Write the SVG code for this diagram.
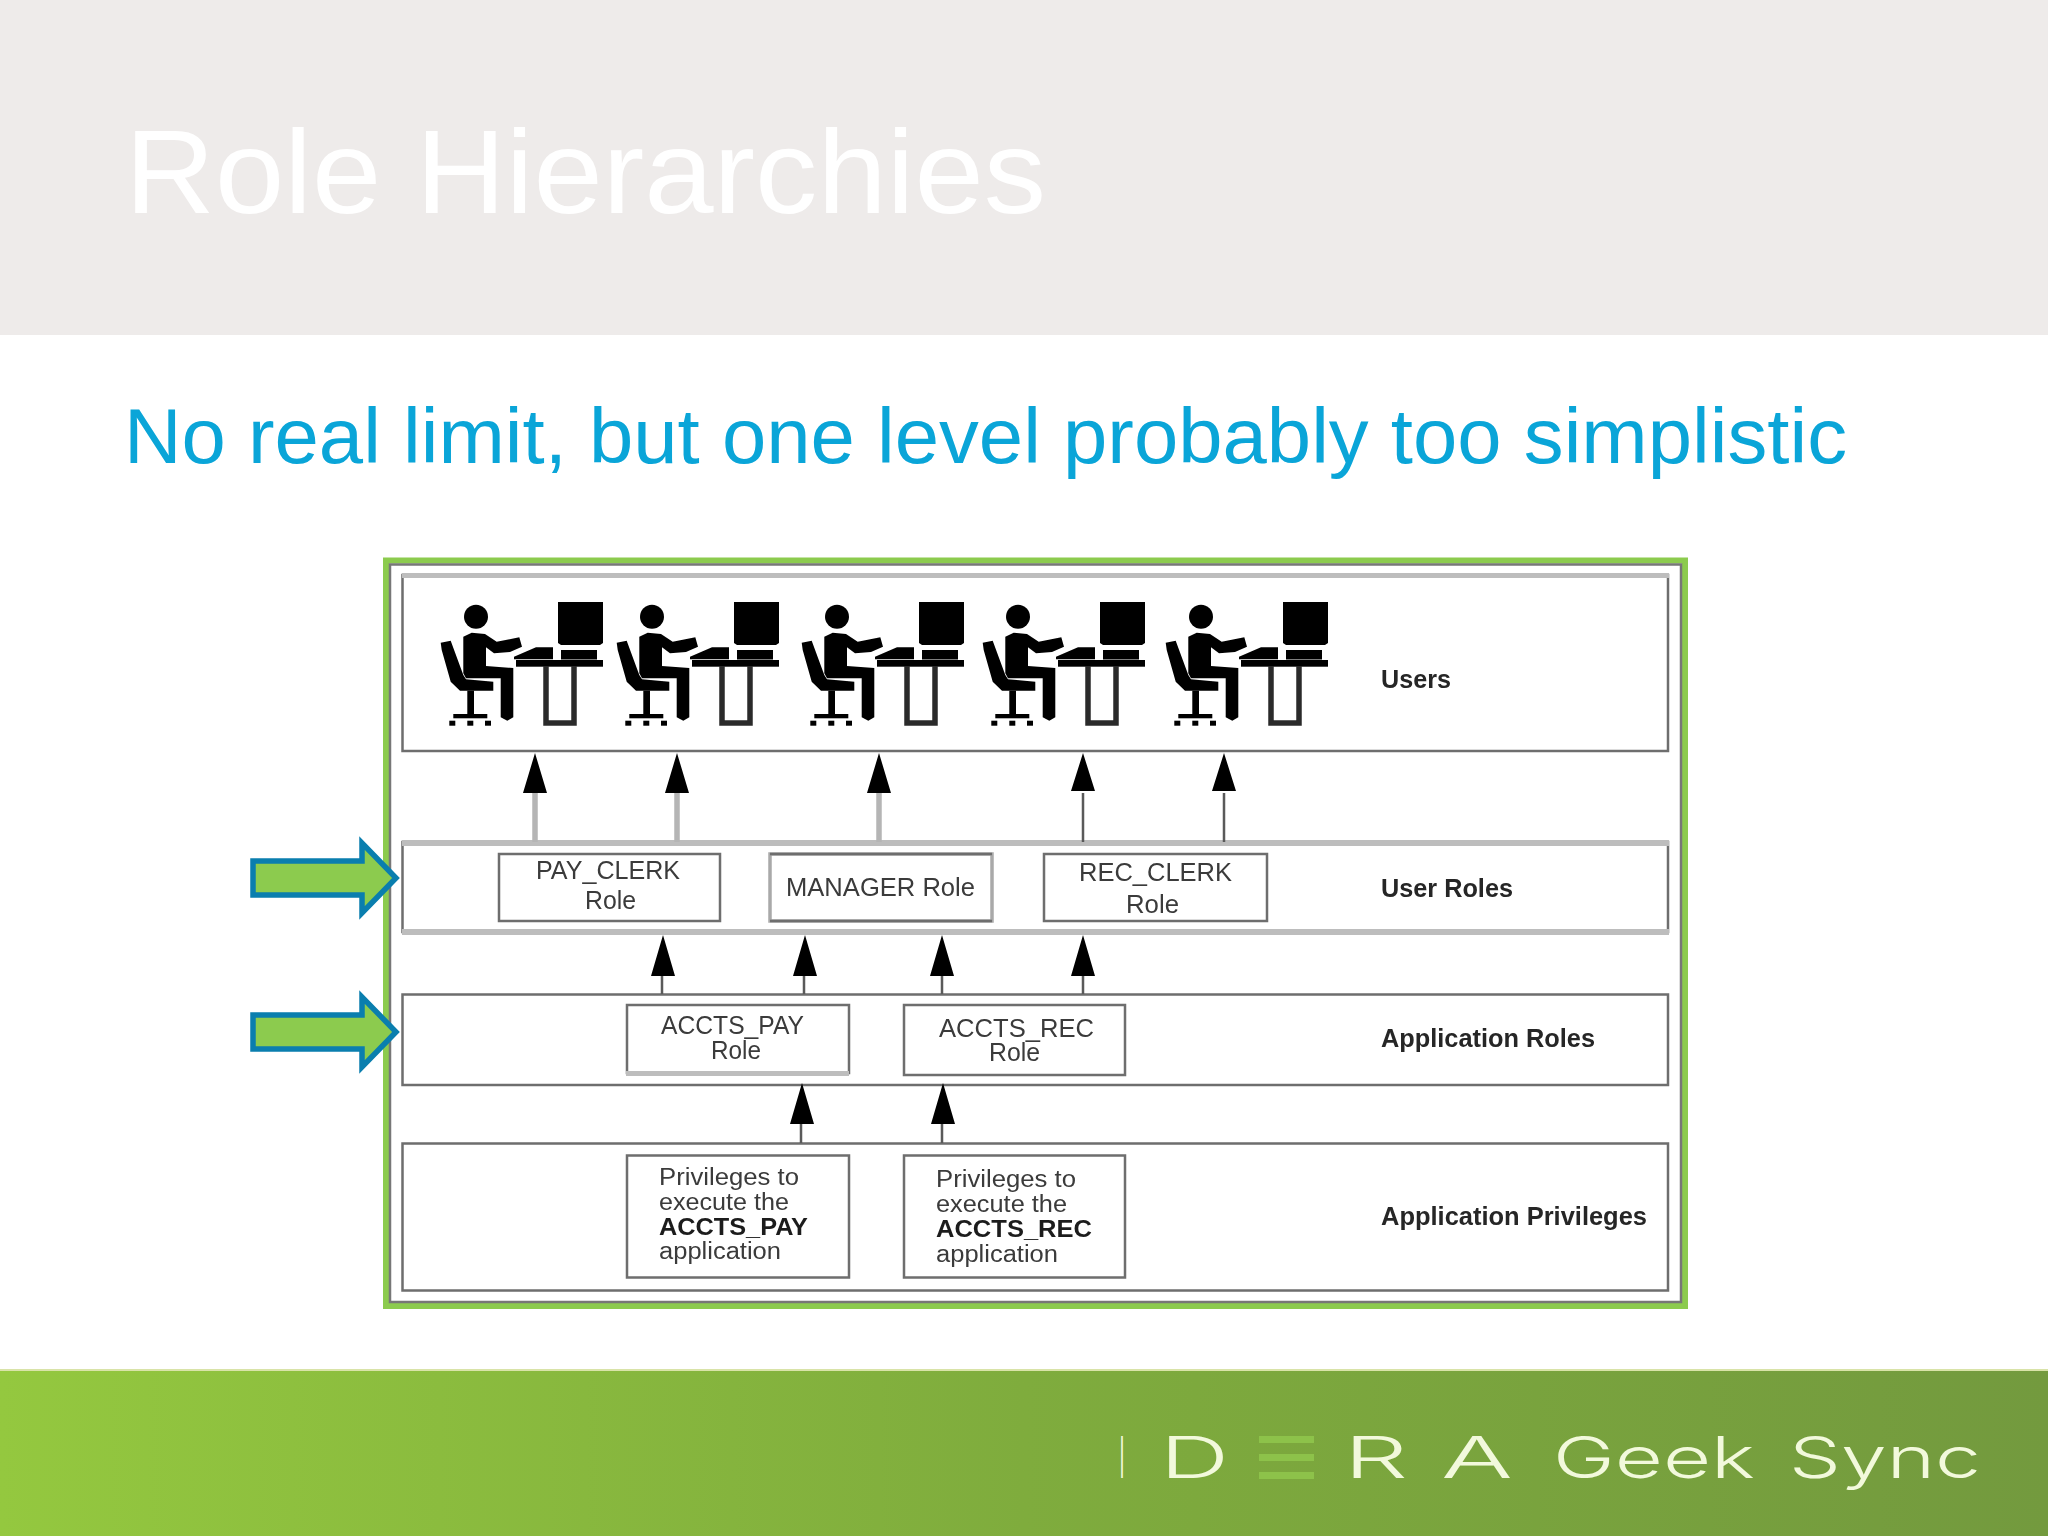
<svg xmlns="http://www.w3.org/2000/svg" width="2048" height="1536" viewBox="0 0 2048 1536">
<style>
text{font-family:"Liberation Sans",Arial,sans-serif}
.box{fill:#fff;stroke:#6e6e6e;stroke-width:2.5}
.band{fill:#bdbdbd}
.t{font-size:25px;fill:#3a3a3a}
.p{font-size:23.5px;fill:#3a3a3a}
.b{font-size:23.5px;fill:#1c1c1c;font-weight:700}
.lbl{font-size:25px;fill:#262626;font-weight:700}
.logo{font-family:Inter,"Liberation Sans",sans-serif;font-weight:300;font-size:57px;fill:#F2F9DC}
.head{fill:#000}
.lg{stroke:#b5b5b5;stroke-width:5.5;fill:none}
.ld{stroke:#5a5a5a;stroke-width:2.5;fill:none}
.ga{fill:#8CCB4E;stroke:#0A7EAE;stroke-width:5.5;stroke-linejoin:miter}
</style>
<defs>
<linearGradient id="foot" x1="0" x2="1" y1="0" y2="0"><stop offset="0" stop-color="#94C83F"/><stop offset="0.5" stop-color="#7FAC3D"/><stop offset="1" stop-color="#739A3E"/></linearGradient>
<filter id="soft" x="-2%" y="-2%" width="104%" height="104%"><feGaussianBlur stdDeviation="0.6"/></filter>
<g id="desk">
<ellipse cx="35" cy="14.700" rx="12" ry="12"/>
<path d="M117 0H162V41L159 43H120L117 41Z"/>
<rect x="120" y="48" width="36" height="9.500"/>
<path d="M73 54.700L95 45.300H112V57.300H73Z"/>
<rect x="75" y="58" width="87" height="6.700"/>
<path d="M105 64V121H133V64" fill="none" stroke="#2a2a2a" stroke-width="5.500"/>
<path d="M22.300 34.700L30.700 30.700L44 32L55.700 39.700L78.300 35.300L81 44.700L69 50L53 51.300L45 45.300V64L72.300 66V115.300L66.300 118.700L59.700 115.300V76.300H25L22.300 71.300Z"/>
<path d="M-.3 40.700L9.700 38.700L22.300 73L25 77.300L52.300 79.700V88.700H19L9.700 79.700L.7 48Z"/>
<rect x="26.300" y="88.700" width="6.700" height="23.300"/>
<rect x="12.300" y="112" width="34" height="4.300"/>
<rect x="8.300" y="118.700" width="6" height="5"/><rect x="26.300" y="118.700" width="6" height="5"/><rect x="44" y="118.700" width="6" height="5"/>
</g>
</defs>

<rect id="header" x="0" y="0" width="2048" height="335" fill="#EEEBEA"/>
<text id="title" x="125" y="213" font-size="118" fill="#fff" textLength="921" lengthAdjust="spacingAndGlyphs">Role Hierarchies</text>
<text id="subtitle" x="124" y="463" font-size="78" fill="#0AA5D8" textLength="1723" lengthAdjust="spacingAndGlyphs">No real limit, but one level probably too simplistic</text>

<g id="frame">
<rect x="386" y="560.500" width="1299" height="745.500" fill="#fff" stroke="#8CCB4E" stroke-width="6"/>
<rect x="390" y="564.500" width="1291" height="737.500" fill="none" stroke="#777" stroke-width="2.500"/>
</g>

<g filter="url(#soft)">
<g id="tier-users">
<rect class="box" x="402.500" y="575" width="1265.500" height="176"/>
<rect class="band" x="402" y="573" width="1267" height="5"/>
<use href="#desk" x="441" y="602"/><use href="#desk" x="617" y="602"/><use href="#desk" x="802" y="602"/><use href="#desk" x="983" y="602"/><use href="#desk" x="1166" y="602"/>
<text class="lbl" x="1381" y="688" textLength="70" lengthAdjust="spacingAndGlyphs">Users</text>
</g>
<g id="tier-user-roles">
<rect class="box" x="402.500" y="842" width="1265.500" height="90"/>
<rect class="band" x="402" y="840" width="1267" height="6"/>
<rect class="band" x="402" y="929" width="1267" height="6"/>
<text class="lbl" x="1381" y="897" textLength="132" lengthAdjust="spacingAndGlyphs">User Roles</text>
</g>
<g id="pay-clerk-role">
<rect class="box" x="499" y="854" width="221" height="67"/>
<text class="t" x="536" y="879" textLength="144" lengthAdjust="spacingAndGlyphs">PAY_CLERK</text>
<text class="t" x="585" y="909" textLength="51" lengthAdjust="spacingAndGlyphs">Role</text>
</g>
<g id="manager-role">
<rect x="770" y="854" width="222" height="67" fill="#fff" stroke="#a9a9a9" stroke-width="3.500"/>
<path d="M770 854H992M770 921H992" stroke="#6e6e6e" stroke-width="2.500" fill="none"/>
<text class="t" x="786" y="896" textLength="189" lengthAdjust="spacingAndGlyphs">MANAGER Role</text>
</g>
<g id="rec-clerk-role">
<rect class="box" x="1044" y="854" width="223" height="67"/>
<text class="t" x="1079" y="881" textLength="153" lengthAdjust="spacingAndGlyphs">REC_CLERK</text>
<text class="t" x="1126" y="913" textLength="53" lengthAdjust="spacingAndGlyphs">Role</text>
</g>
<g id="tier-application-roles">
<rect class="box" x="402.500" y="994.500" width="1265.500" height="90.500"/>
<text class="lbl" x="1381" y="1047" textLength="214" lengthAdjust="spacingAndGlyphs">Application Roles</text>
</g>
<g id="accts-pay-role">
<rect class="box" x="627" y="1005" width="222" height="68"/>
<rect class="band" x="626" y="1071" width="223" height="5"/>
<text class="t" x="661" y="1034" textLength="143" lengthAdjust="spacingAndGlyphs">ACCTS_PAY</text>
<text class="t" x="711" y="1059" textLength="50" lengthAdjust="spacingAndGlyphs">Role</text>
</g>
<g id="accts-rec-role">
<rect class="box" x="904" y="1005" width="221" height="70"/>
<text class="t" x="939" y="1037" textLength="155" lengthAdjust="spacingAndGlyphs">ACCTS_REC</text>
<text class="t" x="989" y="1061" textLength="51" lengthAdjust="spacingAndGlyphs">Role</text>
</g>
<g id="tier-application-privileges">
<rect class="box" x="402.500" y="1143.500" width="1265.500" height="147"/>
<text class="lbl" x="1381" y="1225" textLength="266" lengthAdjust="spacingAndGlyphs">Application Privileges</text>
</g>
<g id="accts-pay-privileges">
<rect class="box" x="627" y="1155.500" width="222" height="122"/>
<text class="p" x="659" y="1185" textLength="140" lengthAdjust="spacingAndGlyphs">Privileges to</text>
<text class="p" x="659" y="1210" textLength="130" lengthAdjust="spacingAndGlyphs">execute the</text>
<text class="b" x="659" y="1235" textLength="149" lengthAdjust="spacingAndGlyphs">ACCTS_PAY</text>
<text class="p" x="659" y="1259" textLength="122" lengthAdjust="spacingAndGlyphs">application</text>
</g>
<g id="accts-rec-privileges">
<rect class="box" x="904" y="1155.500" width="221" height="122"/>
<text class="p" x="936" y="1187" textLength="140" lengthAdjust="spacingAndGlyphs">Privileges to</text>
<text class="p" x="936" y="1212" textLength="131" lengthAdjust="spacingAndGlyphs">execute the</text>
<text class="b" x="936" y="1237" textLength="156" lengthAdjust="spacingAndGlyphs">ACCTS_REC</text>
<text class="p" x="936" y="1262" textLength="122" lengthAdjust="spacingAndGlyphs">application</text>
</g>
<g id="connectors">
<path class="lg" d="M535 793V842M677 793V842M879 793V842"/>
<path class="ld" d="M1083 793V842M1224 793V842M662 976V994M804 976V994M942 976V994M1083 976V994M801 1124V1143M942 1124V1143"/>
<path class="head" d="M535 753L547 793H523ZM677 753L689 793H665ZM879 753L891 793H867ZM1083 753L1095 791H1071ZM1224 753L1236 791H1212ZM663 935L675 976H651ZM805 935L817 976H793ZM942 935L954 976H930ZM1083 935L1095 976H1071ZM802 1083L814 1124H790ZM943 1083L955 1124H931Z"/>
</g>
</g>

<g id="callout-arrow-user-roles"><path class="ga" d="M253 861H362V843L396 878L362 913V895H253Z"/></g>
<g id="callout-arrow-application-roles"><path class="ga" d="M253 1015H362V997L396 1032L362 1067V1049H253Z"/></g>

<g id="footer">
<rect x="0" y="1370" width="2048" height="166" fill="url(#foot)"/>
<rect x="0" y="1369" width="2048" height="2" fill="#D9E3A8"/>
<text class="logo" x="1119" y="1478" textLength="6" lengthAdjust="spacingAndGlyphs">I</text>
<text class="logo" x="1160" y="1478" textLength="69" lengthAdjust="spacingAndGlyphs">D</text>
<path d="M1259 1436h55v7h-55zM1259 1454h55v7h-55zM1259 1472h55v7h-55z" fill="#8DC24A"/>
<text class="logo" x="1344" y="1478" textLength="64" lengthAdjust="spacingAndGlyphs">R</text>
<text class="logo" x="1441" y="1478" textLength="72" lengthAdjust="spacingAndGlyphs">A</text>
<text class="logo" x="1553" y="1478" textLength="202" lengthAdjust="spacingAndGlyphs">Geek</text>
<text class="logo" x="1789" y="1478" textLength="192" lengthAdjust="spacingAndGlyphs">Sync</text>
</g>
</svg>
